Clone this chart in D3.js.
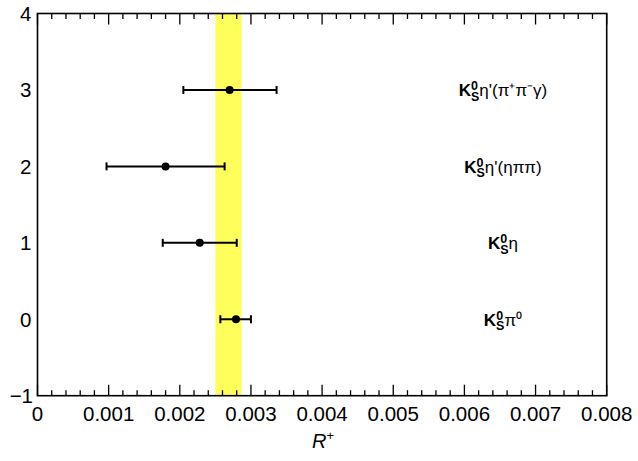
<!DOCTYPE html>
<html>
<head>
<meta charset="utf-8">
<script src="https://cdn.jsdelivr.net/npm/d3@7"></script>
<style>
  body { margin: 0; background: #fff; }
  svg text { font-family: "Liberation Sans", Arial, sans-serif; fill: #000; }
</style>
</head>
<body>
<div id="chart"></div>
<script>
// measurements, one row per decay mode
const modes = [3, 2, 1, 0];
const centre = [0.00270, 0.00180, 0.00228, 0.00279];
const errLow = [0.00205, 0.00097, 0.00176, 0.00257];
const errHigh = [0.00336, 0.00263, 0.00280, 0.00300];
// mode labels: trailing text after the K0S symbol
const labelTail = ["η'(π⁺π⁻γ)", "η'(ηππ)", "η", "π⁰"];

// average band
const bandLow = 0.00250;
const bandHigh = 0.00287;

const xTicks = [0, 0.001, 0.002, 0.003, 0.004, 0.005, 0.006, 0.007, 0.008];
const yTicks = [-1, 0, 1, 2, 3, 4];

const width = 638;
const height = 461;
const margin = {left: 37.5, right: 31.3, top: 13.5, bottom: 65.3};

const svg = d3.select('#chart')
  .append('svg')
  .attr('width', width)
  .attr('height', height);

const x = d3.scaleLinear()
  .domain([0, 0.008])
  .range([margin.left, width - margin.right]);

const y = d3.scaleLinear()
  .domain([-1, 4])
  .range([height - margin.bottom, margin.top]);

// yellow band
svg.append('rect')
  .attr('x', x(bandLow))
  .attr('y', y(4))
  .attr('width', x(bandHigh) - x(bandLow))
  .attr('height', y(-1) - y(4))
  .attr('fill', '#ffff5c');

// minor and major ticks along bottom and top
const minor = d3.range(0, 0.00801, 0.0002);
function drawTicks(yPos, dir) {
  svg.append('g').selectAll('line')
    .data(minor)
    .enter()
    .append('line')
    .attr('x1', d => x(d))
    .attr('x2', d => x(d))
    .attr('y1', yPos)
    .attr('y2', (d, i) => yPos + dir * (i % 5 === 0 ? 11 : 5.5))
    .attr('stroke', '#000')
    .attr('stroke-width', 1.3);
}
drawTicks(y(-1), -1);
drawTicks(y(4), 1);

// frame
svg.append('rect')
  .attr('x', x(0))
  .attr('y', y(4))
  .attr('width', x(0.008) - x(0))
  .attr('height', y(-1) - y(4))
  .attr('fill', 'none')
  .attr('stroke', '#000')
  .attr('stroke-width', 1.6);

// tick labels
svg.append('g').selectAll('text')
  .data(xTicks)
  .enter()
  .append('text')
  .attr('x', d => x(d))
  .attr('y', y(-1) + 25)
  .attr('text-anchor', 'middle')
  .attr('font-size', 20.5)
  .text(d => d === 0 ? '0' : d3.format('.3f')(d));

svg.append('g').selectAll('text')
  .data(yTicks)
  .enter()
  .append('text')
  .attr('x', d => d < 0 ? 33 : 31.5)
  .attr('y', d => y(d) + 7.5)
  .attr('text-anchor', 'end')
  .attr('font-size', 20.5)
  .text(d => d < 0 ? '\u2212' + Math.abs(d) : d);

// axis title
const title = svg.append('text')
  .attr('x', 323)
  .attr('y', 448)
  .attr('text-anchor', 'middle')
  .attr('font-size', 20)
  .attr('font-style', 'italic');
title.append('tspan').text('R');
title.append('tspan')
  .attr('dy', -8)
  .attr('font-size', 13)
  .attr('font-style', 'normal')
  .text('+');

// error bars
const bars = svg.append('g').selectAll('g')
  .data(modes)
  .enter()
  .append('g')
  .attr('stroke', '#000')
  .attr('stroke-width', 2);

bars.append('line')
  .attr('x1', (d, i) => x(errLow[i]))
  .attr('x2', (d, i) => x(errHigh[i]))
  .attr('y1', d => y(d))
  .attr('y2', d => y(d));

bars.append('line')
  .attr('x1', (d, i) => x(errLow[i]))
  .attr('x2', (d, i) => x(errLow[i]))
  .attr('y1', d => y(d) - 4)
  .attr('y2', d => y(d) + 4);

bars.append('line')
  .attr('x1', (d, i) => x(errHigh[i]))
  .attr('x2', (d, i) => x(errHigh[i]))
  .attr('y1', d => y(d) - 4)
  .attr('y2', d => y(d) + 4);

svg.append('g').selectAll('circle')
  .data(modes)
  .enter()
  .append('circle')
  .attr('cx', (d, i) => x(centre[i]))
  .attr('cy', d => y(d))
  .attr('r', 4)
  .attr('fill', '#000');

// mode labels, centred at x = 503
const labels = svg.append('g').selectAll('text')
  .data(modes)
  .enter()
  .append('text')
  .attr('x', 503)
  .attr('y', d => y(d) + 6.5)
  .attr('text-anchor', 'middle')
  .attr('font-size', 17);

labels.append('tspan').attr('font-weight', 'bold').text('K');
labels.append('tspan')
  .attr('font-weight', 'bold')
  .attr('font-size', 12.5)
  .attr('dy', -6)
  .text('0');
labels.append('tspan')
  .attr('font-weight', 'bold')
  .attr('font-size', 12.5)
  .attr('dx', -7)
  .attr('dy', 10.5)
  .text('S');
labels.append('tspan')
  .attr('dy', -4.5)
  .text((d, i) => labelTail[i]);
</script>
</body>
</html>
